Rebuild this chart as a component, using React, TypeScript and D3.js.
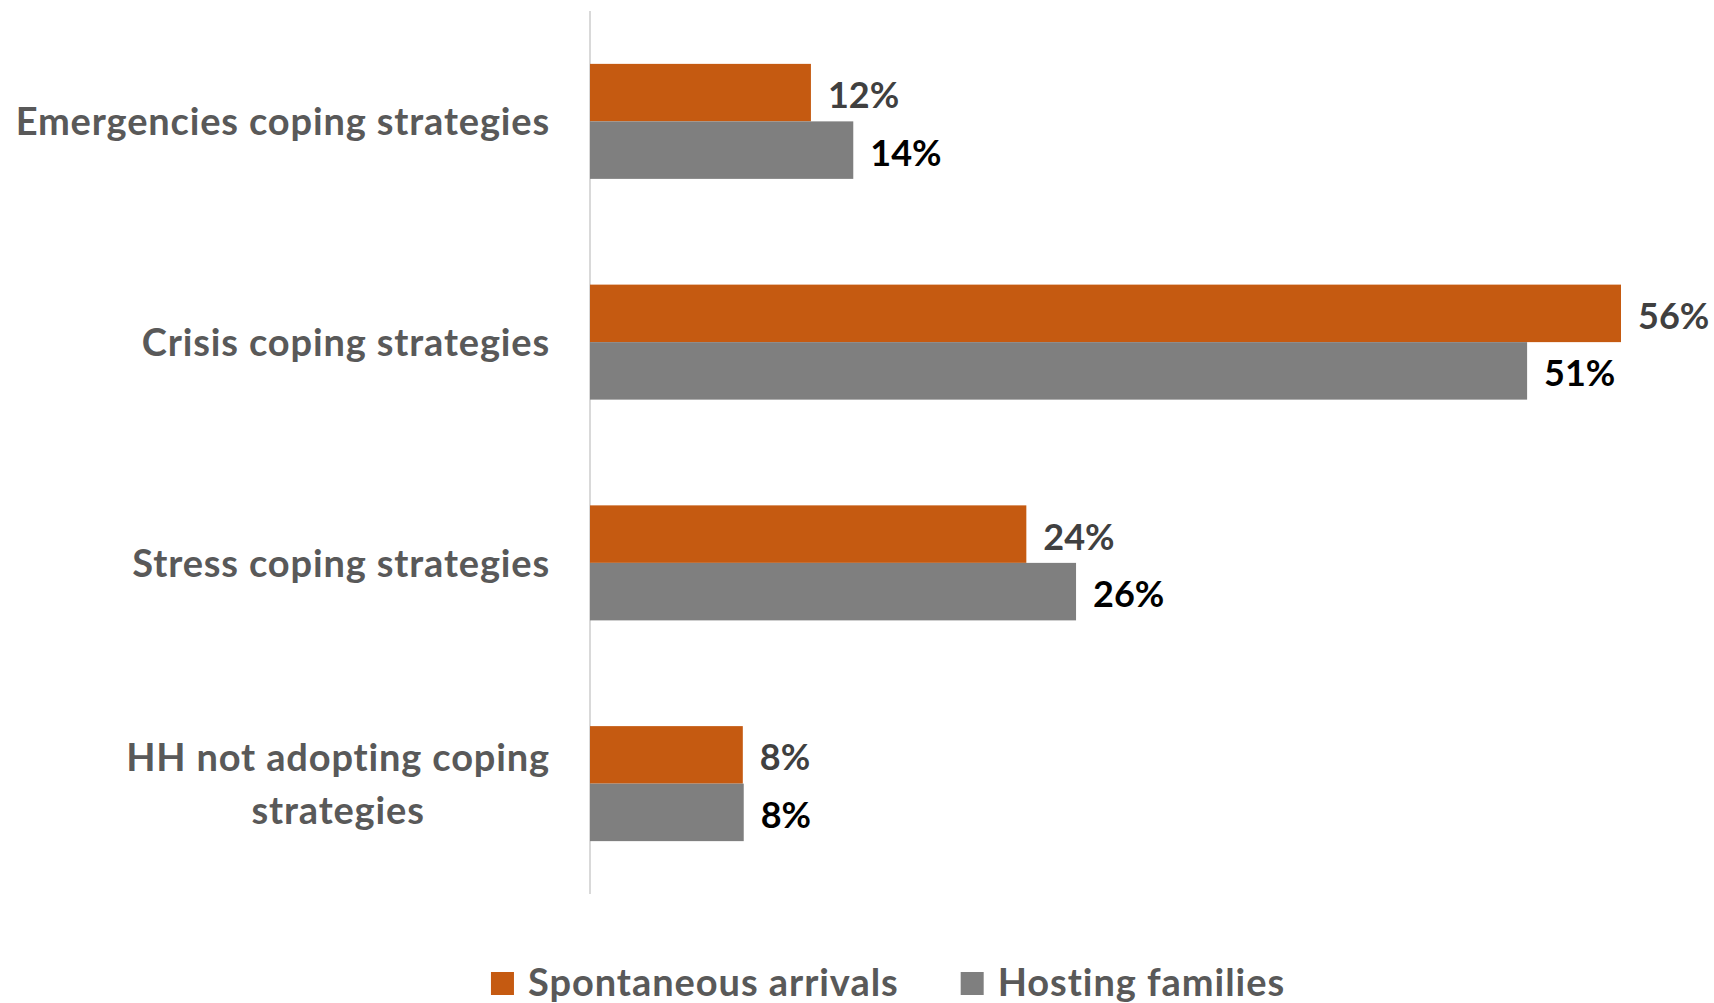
import React, { useEffect, useRef } from "react";
import * as d3 from "d3";

const categories = [
  "Emergencies coping strategies",
  "Crisis coping strategies",
  "Stress coping strategies",
  "HH not adopting coping strategies",
];
const categoryLines = [
  ["Emergencies coping strategies"],
  ["Crisis coping strategies"],
  ["Stress coping strategies"],
  ["HH not adopting coping", "strategies"],
];
const seriesNames = ["Spontaneous arrivals", "Hosting families"];
const spontaneous = [12.0, 56.0, 23.7, 8.3];
const hosting = [14.3, 50.9, 26.4, 8.35];
const seriesValues = [spontaneous, hosting];
const seriesColors = ["#C55A11", "#7F7F7F"];
const labelColors = ["#404040", "#000000"];

const W = 1714;
const H = 1003;
const FONT = "Lato, 'Open Sans', sans-serif";

export default function App() {
  const ref = useRef<SVGSVGElement | null>(null);

  useEffect(() => {
    const svg = d3.select(ref.current);
    svg.selectAll("*").remove();

    const x0 = 590;
    const x = d3.scaleLinear().domain([0, 56]).range([x0, 1621]);
    const y = d3
      .scaleBand<string>()
      .domain(categories)
      .range([11, 894])
      .paddingInner(0.479)
      .paddingOuter(0.2395);
    const ys = d3
      .scaleBand<string>()
      .domain(seriesNames)
      .range([0, y.bandwidth()])
      .padding(0);

    svg
      .append("line")
      .attr("x1", x0)
      .attr("x2", x0)
      .attr("y1", 11)
      .attr("y2", 894)
      .attr("stroke", "#D9D9D9")
      .attr("stroke-width", 2);

    seriesNames.forEach((s, si) => {
      const g = svg.append("g");
      categories.forEach((c, ci) => {
        const v = seriesValues[si][ci];
        const by = (y(c) as number) + (ys(s) as number);
        g.append("rect")
          .attr("x", x(0))
          .attr("y", by)
          .attr("width", x(v) - x(0))
          .attr("height", ys.bandwidth())
          .attr("fill", seriesColors[si]);
        g.append("text")
          .attr("x", x(v) + 17)
          .attr("y", by + ys.bandwidth() / 2 + 15.5)
          .attr("font-family", FONT)
          .attr("font-weight", 700)
          .attr("font-size", 36)
          .attr("fill", labelColors[si])
          .text(d3.format(".0%")(Math.round(v) / 100));
      });
    });

    categories.forEach((c, ci) => {
      const lines = categoryLines[ci];
      const cy = (y(c) as number) + y.bandwidth() / 2;
      const lh = 53;
      const startY = cy - ((lines.length - 1) * lh) / 2 + 14;
      const texts = lines.map((ln, li) =>
        svg
          .append("text")
          .attr("y", startY + li * lh)
          .attr("font-family", FONT)
          .attr("font-weight", 700)
          .attr("font-size", 38)
          .attr("letter-spacing", 0.85)
          .attr("fill", "#595959")
          .text(ln)
      );
      const widths = texts.map((t) => (t.node() as SVGTextElement).getComputedTextLength());
      const maxW = Math.max(...widths);
      const center = 550 - maxW / 2;
      texts.forEach((t) => t.attr("x", center).attr("text-anchor", "middle"));
    });

    const lg = svg.append("g");
    let cx = 0;
    seriesNames.forEach((s, si) => {
      lg.append("rect")
        .attr("x", cx)
        .attr("y", 972)
        .attr("width", 23)
        .attr("height", 23)
        .attr("fill", seriesColors[si]);
      const t = lg
        .append("text")
        .attr("x", cx + 37)
        .attr("y", 996)
        .attr("font-family", FONT)
        .attr("font-weight", 700)
        .attr("font-size", 38)
        .attr("letter-spacing", 0.95)
        .attr("fill", "#595959")
        .text(s);
      const w = (t.node() as SVGTextElement).getComputedTextLength();
      cx = cx + 37 + w + 62;
    });
    const total = cx - 62;
    lg.attr("transform", `translate(${888 - total / 2},0)`);
  }, []);

  return (
    <svg
      ref={ref}
      width={W}
      height={H}
      style={{ position: "absolute", left: 0, top: 0, background: "#fff", display: "block" }}
    />
  );
}
